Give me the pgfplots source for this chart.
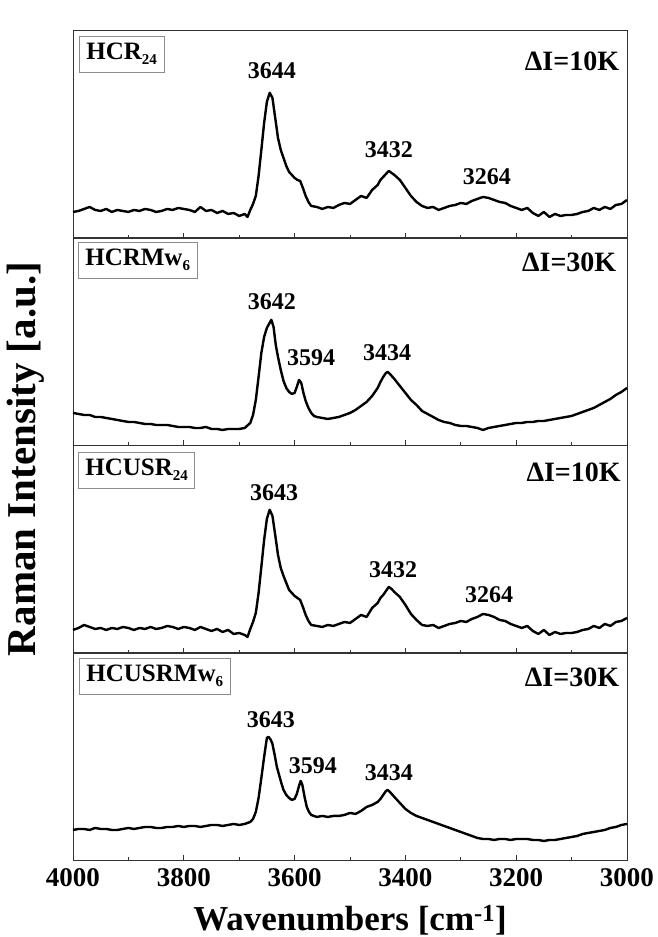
\documentclass[border=0pt]{standalone}
\usepackage{fontspec}
\setmainfont{Liberation Serif}
\usepackage{pgfplots}
\pgfplotsset{compat=1.18}
\newcommand{\sub}[1]{\raisebox{-0.45ex}{\fontsize{15}{15}\selectfont #1}}
\tikzset{
  pk/.style={font=\fontsize{24}{28}\selectfont\bfseries},
  di/.style={font=\fontsize{28}{32}\selectfont\bfseries,anchor=east},
  bx/.style={draw=black!45,line width=0.7pt,anchor=north west,font=\fontsize{25}{30}\selectfont\bfseries,inner xsep=7pt,minimum height=36pt},
  spec/.style={black,line width=2.4pt,line join=round}
}
\begin{document}
\begin{tikzpicture}
\path[use as bounding box] (0pt,0pt) rectangle (657pt,937pt);
\pgfplotsset{
  panel/.style={width=554pt,height=207.25pt,scale only axis,xmin=3000,xmax=4000,x dir=reverse,
    ymin=0,ymax=207,ytick=\empty,xtick={3000,3200,...,4000},minor x tick num=1,
    xtick pos=bottom,tick align=inside,major tick length=5pt,minor tick length=3pt,
    axis line style={black!80,line width=0.9pt},tick style={black!80,line width=0.9pt},
    xticklabels={},clip=false}
}
% ---------------- panel 1
\begin{axis}[panel,at={(73pt,699pt)},anchor=south west]
\addplot[spec,no marks] coordinates {
(4000,26)(3990,27)(3980,29)(3970,31)(3960,28)(3950,27)(3940,29)(3930,26)(3920,28)(3910,27)
(3900,26)(3890,28)(3880,27)(3870,29)(3860,28)(3850,26)(3840,27)(3830,29)(3820,28)(3810,30)
(3800,29)(3790,28)(3780,26)(3770,31)(3760,27)(3750,28)(3740,25)(3730,27)(3720,24)(3710,25)
(3700,22)(3690,24)(3685,21)(3680,28)(3675,34)(3670,42)(3665,62)(3660,88)(3655,115)(3650,136)
(3645,145)(3640,140)(3635,120)(3630,100)(3625,88)(3620,80)(3615,72)(3610,66)(3605,63)(3600,60)
(3595,58)(3590,57)(3585,50)(3580,42)(3575,36)(3570,32)(3560,31)(3550,29)(3540,31)(3530,30)
(3520,33)(3510,35)(3500,34)(3490,38)(3480,42)(3470,40)(3460,48)(3450,53)(3445,58)(3440,61)
(3435,64)(3430,67)(3425,65)(3420,63)(3410,58)(3400,50)(3390,42)(3380,36)(3370,32)(3360,30)
(3350,31)(3340,28)(3330,30)(3320,32)(3310,33)(3300,35)(3290,34)(3280,37)(3270,39)(3260,41)
(3250,40)(3240,38)(3230,36)(3220,35)(3210,32)(3200,30)(3190,28)(3180,30)(3170,25)(3160,22)
(3150,26)(3140,21)(3130,24)(3120,22)(3110,23)(3100,23)(3090,24)(3080,26)(3070,27)(3060,30)
(3050,28)(3040,31)(3030,29)(3020,33)(3010,34)(3000,38)};
\node[pk] at (axis cs:3641,167) {3644};
\node[pk] at (axis cs:3430,88) {3432};
\node[pk] at (axis cs:3253,61) {3264};
\node[di] at (axis cs:3008,176) {ΔI=10K};
\node[bx] at (axis cs:3989,202) {HCR\sub{24}};
\end{axis}
% ---------------- panel 2
\begin{axis}[panel,at={(73pt,492pt)},anchor=south west]
\addplot[spec,no marks] coordinates {
(4000,32)(3990,31)(3980,30)(3970,30)(3960,28)(3950,28)(3940,27)(3930,26)(3920,25)(3910,24)
(3900,23)(3890,23)(3880,22)(3870,21)(3860,21)(3850,20)(3840,20)(3830,20)(3820,19)(3810,18)
(3800,18)(3790,18)(3780,17)(3770,17)(3760,18)(3750,16)(3740,16)(3730,15)(3720,16)(3710,16)
(3700,16)(3690,17)(3680,22)(3675,30)(3670,45)(3665,68)(3660,92)(3655,108)(3650,117)(3645,122)
(3642,125)(3638,118)(3634,100)(3630,88)(3625,75)(3620,64)(3615,57)(3610,53)(3605,51)(3600,52)
(3596,58)(3592,65)(3588,62)(3584,52)(3580,44)(3575,37)(3570,32)(3565,29)(3560,28)(3550,27)
(3540,26)(3530,27)(3520,28)(3510,30)(3500,32)(3490,35)(3480,39)(3470,43)(3460,49)(3450,57)
(3445,63)(3440,68)(3435,72)(3432,73)(3428,71)(3420,66)(3410,59)(3400,52)(3390,45)(3380,40)
(3370,34)(3360,31)(3350,28)(3340,25)(3330,23)(3320,22)(3310,20)(3300,19)(3290,19)(3280,18)
(3270,17)(3260,15)(3250,17)(3240,18)(3230,19)(3220,20)(3210,21)(3200,22)(3190,22)(3180,23)
(3170,23)(3160,24)(3150,24)(3140,25)(3130,26)(3120,27)(3110,28)(3100,29)(3090,31)(3080,33)
(3070,35)(3060,37)(3050,40)(3040,43)(3030,46)(3020,50)(3010,53)(3000,57)};
\node[pk] at (axis cs:3641,143) {3642};
\node[pk] at (axis cs:3570,87) {3594};
\node[pk] at (axis cs:3433,92) {3434};
\node[di] at (axis cs:3013,182) {ΔI=30K};
\node[bx] at (axis cs:3991,203) {HCRMw\sub{6}};
\end{axis}
% ---------------- panel 3
\begin{axis}[panel,at={(73pt,284pt)},anchor=south west]
\addplot[spec,no marks] coordinates {
(4000,23)(3990,25)(3980,28)(3970,26)(3960,24)(3950,25)(3940,23)(3930,25)(3920,24)(3910,26)
(3900,25)(3890,23)(3880,25)(3870,24)(3860,26)(3850,24)(3840,25)(3830,27)(3820,26)(3810,24)
(3800,26)(3790,25)(3780,23)(3770,26)(3760,24)(3750,22)(3740,24)(3730,21)(3720,23)(3710,19)
(3700,20)(3690,18)(3685,16)(3680,24)(3675,31)(3670,40)(3665,60)(3660,86)(3655,113)(3650,134)
(3645,143)(3640,137)(3635,118)(3630,98)(3625,85)(3620,77)(3615,70)(3610,63)(3605,60)(3600,57)
(3595,55)(3590,53)(3585,46)(3580,38)(3575,32)(3570,28)(3560,27)(3550,26)(3540,28)(3530,27)
(3520,29)(3510,31)(3500,30)(3490,34)(3480,38)(3470,36)(3460,45)(3450,50)(3445,55)(3440,58)
(3435,62)(3430,66)(3425,64)(3420,61)(3410,56)(3400,48)(3390,39)(3380,33)(3370,28)(3360,27)
(3350,28)(3340,25)(3330,27)(3320,29)(3310,30)(3300,32)(3290,31)(3280,34)(3270,36)(3260,39)
(3250,38)(3240,36)(3230,33)(3220,32)(3210,29)(3200,27)(3190,25)(3180,27)(3170,22)(3160,19)
(3150,23)(3140,18)(3130,21)(3120,19)(3110,20)(3100,20)(3090,21)(3080,23)(3070,24)(3060,27)
(3050,25)(3040,29)(3030,27)(3020,31)(3010,32)(3000,35)};
\node[pk] at (axis cs:3637,160) {3643};
\node[pk] at (axis cs:3422,83) {3432};
\node[pk] at (axis cs:3249,58) {3264};
\node[di] at (axis cs:3005,180) {ΔI=10K};
\node[bx] at (axis cs:3991,201) {HCUSR\sub{24}};
\end{axis}
% ---------------- panel 4
\begin{axis}[panel,at={(73pt,77pt)},anchor=south west,
  xticklabels={3000,3200,3400,3600,3800,4000},
  /pgf/number format/assume math mode=true,
  xticklabel style={font=\fontsize{27}{30}\selectfont\bfseries,yshift=-5pt}]
\addplot[spec,no marks] coordinates {
(4000,30)(3990,31)(3980,31)(3970,30)(3960,32)(3950,31)(3940,31)(3930,30)(3920,30)(3910,31)
(3900,32)(3890,31)(3880,32)(3870,33)(3860,33)(3850,32)(3840,32)(3830,33)(3820,33)(3810,34)
(3800,33)(3790,34)(3780,34)(3770,33)(3760,34)(3750,35)(3740,35)(3730,34)(3720,35)(3710,36)
(3700,35)(3690,36)(3680,38)(3675,41)(3670,48)(3665,62)(3660,82)(3655,103)(3650,122)(3647,123)
(3643,120)(3640,116)(3636,105)(3632,93)(3628,85)(3624,77)(3620,70)(3615,65)(3610,62)(3605,60)
(3600,61)(3596,66)(3592,74)(3589,79)(3586,75)(3582,63)(3578,53)(3574,48)(3570,45)(3565,44)
(3560,43)(3550,44)(3540,43)(3530,44)(3520,44)(3510,45)(3500,47)(3490,46)(3480,49)(3470,53)
(3460,55)(3450,58)(3445,61)(3440,65)(3435,69)(3432,70)(3428,68)(3420,63)(3410,57)(3400,51)
(3390,47)(3380,44)(3370,42)(3360,40)(3350,38)(3340,36)(3330,34)(3320,32)(3310,30)(3300,28)
(3290,26)(3280,24)(3270,22)(3260,21)(3250,21)(3240,20)(3230,21)(3220,21)(3210,20)(3200,21)
(3190,21)(3180,21)(3170,20)(3160,20)(3150,19)(3140,20)(3130,20)(3120,21)(3110,22)(3100,23)
(3090,24)(3080,26)(3070,27)(3060,28)(3050,29)(3040,30)(3030,32)(3020,33)(3010,35)(3000,36)};
\node[pk] at (axis cs:3643,140) {3643};
\node[pk] at (axis cs:3567,94) {3594};
\node[pk] at (axis cs:3430,87) {3434};
\node[di] at (axis cs:3008,182) {ΔI=30K};
\node[bx] at (axis cs:3989,202) {HCUSRMw\sub{6}};
\end{axis}
\node[rotate=90,font=\fontsize{41}{45}\selectfont\bfseries] at (26pt,478pt) {Raman Intensity [a.u.]};
\node[font=\fontsize{35}{40}\selectfont\bfseries] at (350pt,17pt) {Wavenumbers [cm\textsuperscript{-1}]};
\end{tikzpicture}
\end{document}
